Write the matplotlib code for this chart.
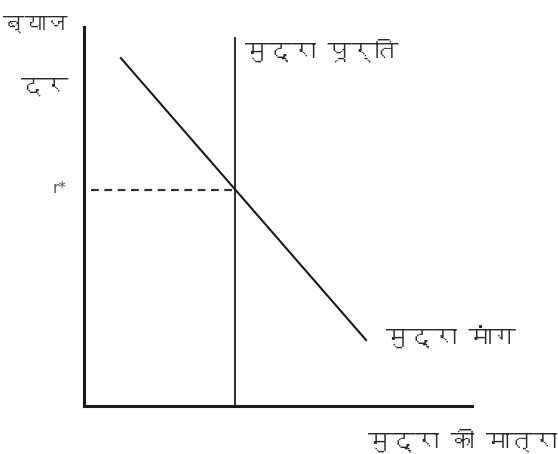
import matplotlib
matplotlib.use('Agg')
import matplotlib.pyplot as plt
from matplotlib import font_manager
from matplotlib.ft2font import FT2Font

# conceptual values (axis units 0..10)
supply_x = [3.9, 3.9]
supply_y = [0.0, 9.7]
demand_x = [0.95, 7.27]
demand_y = [9.18, 1.74]
r_star = 5.7
dash_x = [0.18, 3.9]

y_label_top = 'ब्याज'
y_label_bottom = 'दर'
supply_label = 'मुद्रा पूर्ति'
demand_label = 'मुद्रा मांग'
x_label = 'मुद्रा की मात्रा'


def devanagari_family():
    # look for any installed font that has Devanagari glyphs
    for f in font_manager.fontManager.ttflist:
        try:
            if 0x0915 in FT2Font(f.fname).get_charmap():
                return f.name
        except Exception:
            continue
    return None


fam = devanagari_family()
families = [fam, 'DejaVu Sans'] if fam else ['DejaVu Sans']
plt.rcParams['font.family'] = families

fig = plt.figure(figsize=(5.58, 4.54), dpi=100)
ax = fig.add_axes([84 / 558, 48 / 454, 388 / 558, 379 / 454])
ax.set_xlim(0, 10)
ax.set_ylim(0, 10)

for s in ['top', 'right']:
    ax.spines[s].set_visible(False)
for s in ['left', 'bottom']:
    ax.spines[s].set_linewidth(2.2)
    ax.spines[s].set_color('#1a1a1a')
ax.set_xticks([])
ax.set_yticks([])

ax.plot(supply_x, supply_y, color='#1a1a1a', lw=1.3, clip_on=False)
ax.plot(demand_x, demand_y, color='#1a1a1a', lw=1.5, clip_on=False)
ax.plot(dash_x, [r_star, r_star], color='#333333', lw=1.6, ls=(0, (3.5, 2.5)), clip_on=False)

tc = '#2a2a2a'
fs = 17
ax.text(-2.08, 10.05, y_label_top, ha='left', va='center', fontsize=15.5, color=tc, clip_on=False)
ax.text(-1.62, 8.42, y_label_bottom, ha='left', va='center', fontsize=fs, color=tc, clip_on=False)
ax.text(-0.46, r_star + 0.05, 'r*', ha='right', va='center', fontsize=11,
        color='#555555', family='DejaVu Sans', clip_on=False)
ax.text(4.15, 9.39, supply_label, ha='left', va='center', fontsize=fs, color=tc, clip_on=False)
ax.text(7.78, 1.82, demand_label, ha='left', va='center', fontsize=fs, color=tc, clip_on=False)
ax.text(12.2, -0.9, x_label, ha='right', va='center', fontsize=fs, color=tc, clip_on=False)

fig.savefig('out.png', dpi=100)
